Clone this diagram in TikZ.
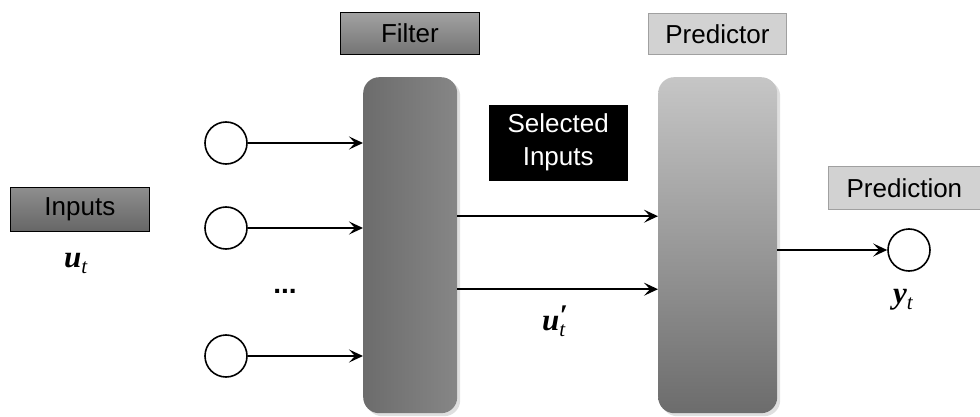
\documentclass[tikz,border=0pt]{standalone}
\usepackage{fontspec}
\setmainfont{Liberation Sans}
\newfontfamily\symfont{Liberation Serif}
\usetikzlibrary{arrows.meta,shadows,calc}

\definecolor{darkTop}{HTML}{8E8E8E}
\definecolor{darkBot}{HTML}{666666}
\definecolor{midTop}{HTML}{A2A2A2}
\definecolor{midBot}{HTML}{747474}
\definecolor{lightFill}{HTML}{D2D2D2}
\definecolor{lightEdge}{HTML}{A0A0A0}
\definecolor{filterL}{HTML}{6C6C6C}
\definecolor{filterR}{HTML}{868686}
\definecolor{predTop}{HTML}{C6C6C6}
\definecolor{predBot}{HTML}{6C6C6C}

% bold italic variable with an italic subscript
\newcommand{\varsym}[1]{{\symfont\fontsize{31}{34}\selectfont\bfseries\itshape #1}}
\newcommand{\subsym}[1]{\raisebox{-6pt}{\symfont\fontsize{21}{22}\selectfont\itshape #1}}
\newcommand{\primesub}[1]{\rlap{\raisebox{5pt}{\symfont\fontsize{30}{30}\selectfont\bfseries\itshape\char"2032}}\subsym{#1}}

\tikzset{
  lbltext/.style={font=\fontsize{26}{31}\selectfont},
  lbl/.style={inner sep=0pt, anchor=north west},
  darkbox/.style={lbl, draw=black, line width=0.8pt, top color=darkTop, bottom color=darkBot},
  midbox/.style={lbl, draw=black, line width=0.8pt, top color=midTop, bottom color=midBot},
  lightbox/.style={lbl, draw=lightEdge, line width=0.8pt, fill=lightFill},
  blackbox/.style={lbl, fill=black, draw=black},
  body/.style={draw=none, rounded corners=16pt, anchor=north west, inner sep=0pt,
    drop shadow={opacity=0.25, shadow xshift=3pt, shadow yshift=-3pt}},
  port/.style={circle, draw=black, line width=1.6pt, minimum size=42pt, inner sep=0pt, fill=white},
  conn/.style={line width=1.8pt, -{Stealth[length=14pt,width=13pt,inset=6pt]}},
  mathlbl/.style={inner sep=0pt}
}

\begin{document}
\begin{tikzpicture}[x=1pt,y=-1pt]
\useasboundingbox (0,0) rectangle (980,417);

% labels above the blocks
\node[darkbox, minimum width=139pt, minimum height=44pt] (inlbl) at (10,187) {};
\node[lbltext] at (inlbl.center) {Inputs};
\node[midbox, minimum width=139pt, minimum height=42pt] (filbl) at (340,12) {};
\node[lbltext] at (filbl.center) {Filter};
\node[lightbox, minimum width=138pt, minimum height=41pt] (prlbl) at (648,13) {};
\node[lbltext] at (prlbl.center) {Predictor};
\node[lightbox, minimum width=152pt, minimum height=43pt] (pnlbl) at (828,166) {};
\node[lbltext] at (pnlbl.center) {Prediction};
\node[blackbox, minimum width=138pt, minimum height=75pt] (sel) at (489,105) {};
\node[font=\fontsize{26}{33}\selectfont, text=white, align=center] at (sel.center) {Selected\\Inputs};

% filter and predictor blocks
\node[body, minimum width=94pt, minimum height=336pt, left color=filterL, right color=filterR] (F) at (363,77) {};
\node[body, minimum width=119pt, minimum height=336pt, top color=predTop, bottom color=predBot] (P) at (658,77) {};

% input ports
\node[port] (in1) at (226,143) {};
\node[port] (in2) at (226,228) {};
\node[port] (in3) at (226,356) {};
\node[font=\fontsize{28}{30}\selectfont\bfseries] (dots) at (285,291) {...};

% output port
\node[port] (out) at (909,250) {};

% variable labels
\node[mathlbl, anchor=base west] (ut) at (64,267) {\varsym{u}\subsym{t}};
\node[mathlbl, anchor=base west] (upt) at (542,330) {\varsym{u}\primesub{t}};
\node[mathlbl, anchor=base west] (yt) at (893,303) {\varsym{y}\subsym{t}};

% connectors
\draw[conn] (in1.east) -- (in1.east -| F.west);
\draw[conn] (in2.east) -- (in2.east -| F.west);
\draw[conn] (in3.east) -- (in3.east -| F.west);
\coordinate (s1) at ($(F.east)+(0,-29)$);
\coordinate (s2) at ($(F.east)+(0,44)$);
\draw[conn] (s1) -- (s1 -| P.west);
\draw[conn] (s2) -- (s2 -| P.west);
\draw[conn] (P.east |- out.west) -- (out.west);
\end{tikzpicture}
\end{document}
